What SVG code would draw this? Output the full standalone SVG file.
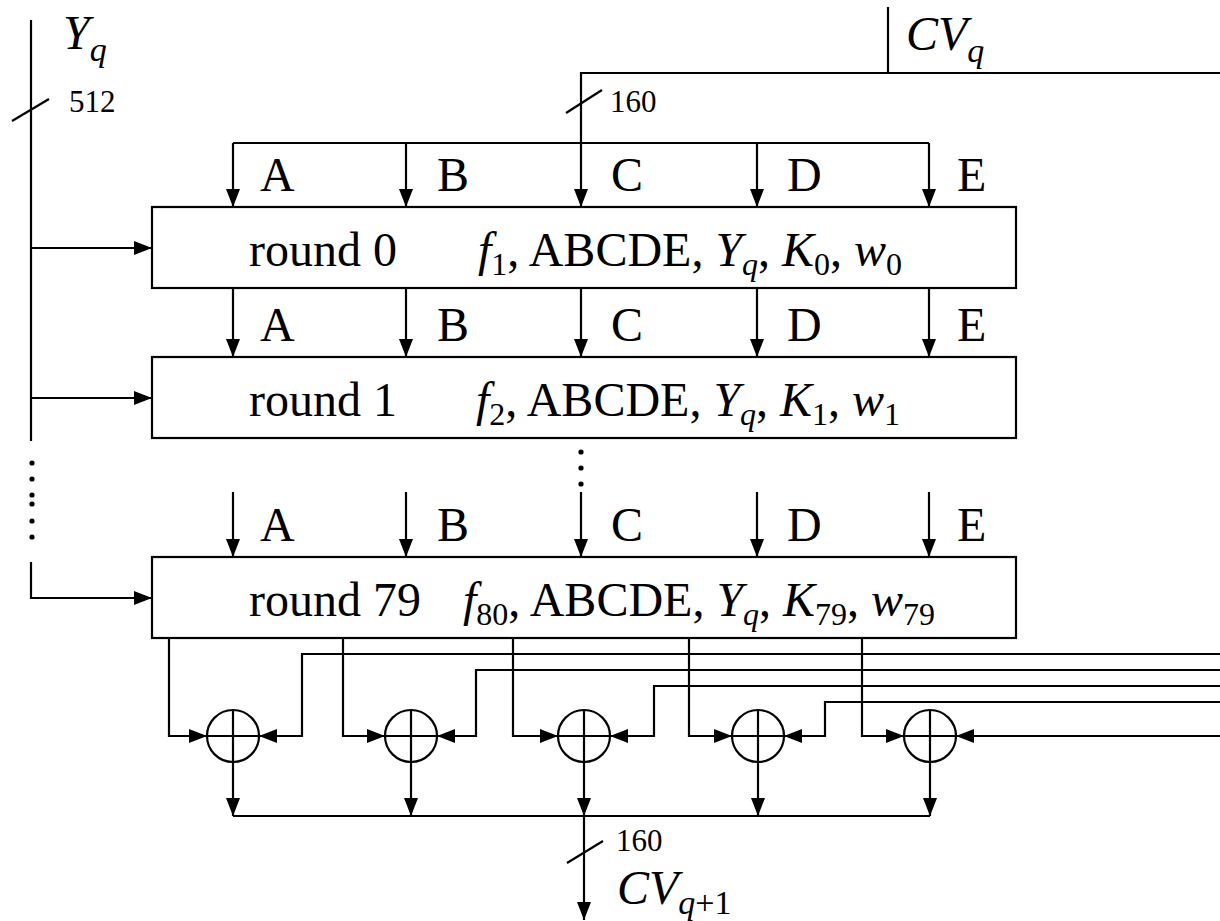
<svg xmlns="http://www.w3.org/2000/svg" width="1220" height="921" viewBox="0 0 1220 921">
<defs>
<style>
.ln{fill:none;stroke:#000;stroke-width:2.2}
.box{fill:#fff;stroke:#000;stroke-width:2.2}
.t{font-family:"Liberation Serif","Times New Roman",serif;font-size:48px;fill:#000}
.s{font-family:"Liberation Serif","Times New Roman",serif;font-size:31px;fill:#000}
.i{font-style:italic}
.sub{font-size:32px}
.dot{fill:#000}
</style>
<marker id="ah" viewBox="0 0 18 14" refX="18" refY="7" markerWidth="18" markerHeight="14" orient="auto" markerUnits="userSpaceOnUse"><path d="M0,0 L18,7 L0,14 z" fill="#000"/></marker>
</defs>
<rect width="1220" height="921" fill="#fff"/>

<g id="connectors">
<path class="ln" d="M31,20 V441"/>
<path class="ln" d="M12,121 L49,99"/>
<path class="ln" d="M31,248 H152" marker-end="url(#ah)"/>
<path class="ln" d="M31,398 H152" marker-end="url(#ah)"/>
<path class="ln" d="M31,562 V598 H152" marker-end="url(#ah)"/>
<path class="ln" d="M888,7 V73"/>
<path class="ln" d="M1220,73 H581 V207" marker-end="url(#ah)"/>
<path class="ln" d="M566,113 L602,90"/>
<path class="ln" d="M233,143 H929"/>
<path class="ln" d="M233,143 V207" marker-end="url(#ah)"/>
<path class="ln" d="M406,143 V207" marker-end="url(#ah)"/>
<path class="ln" d="M757,143 V207" marker-end="url(#ah)"/>
<path class="ln" d="M929,143 V207" marker-end="url(#ah)"/>
<path class="ln" d="M233,288 V357" marker-end="url(#ah)"/>
<path class="ln" d="M406,288 V357" marker-end="url(#ah)"/>
<path class="ln" d="M581,288 V357" marker-end="url(#ah)"/>
<path class="ln" d="M757,288 V357" marker-end="url(#ah)"/>
<path class="ln" d="M929,288 V357" marker-end="url(#ah)"/>
<path class="ln" d="M233,492 V557" marker-end="url(#ah)"/>
<path class="ln" d="M406,492 V557" marker-end="url(#ah)"/>
<path class="ln" d="M581,492 V557" marker-end="url(#ah)"/>
<path class="ln" d="M757,492 V557" marker-end="url(#ah)"/>
<path class="ln" d="M929,492 V557" marker-end="url(#ah)"/>
<path class="ln" d="M169,638 V736 H207" marker-end="url(#ah)"/>
<path class="ln" d="M343,638 V736 H385" marker-end="url(#ah)"/>
<path class="ln" d="M513,638 V736 H558" marker-end="url(#ah)"/>
<path class="ln" d="M689,638 V736 H732" marker-end="url(#ah)"/>
<path class="ln" d="M862,638 V736 H904" marker-end="url(#ah)"/>
<path class="ln" d="M1220,654 H302 V736 H259" marker-end="url(#ah)"/>
<path class="ln" d="M1220,670 H476 V736 H437" marker-end="url(#ah)"/>
<path class="ln" d="M1220,686 H654 V736 H610" marker-end="url(#ah)"/>
<path class="ln" d="M1220,702 H825 V736 H784" marker-end="url(#ah)"/>
<path class="ln" d="M1220,736 H956" marker-end="url(#ah)"/>
<path class="ln" d="M233,762 V816" marker-end="url(#ah)"/>
<path class="ln" d="M411,762 V816" marker-end="url(#ah)"/>
<path class="ln" d="M584,762 V816" marker-end="url(#ah)"/>
<path class="ln" d="M758,762 V816" marker-end="url(#ah)"/>
<path class="ln" d="M930,762 V816" marker-end="url(#ah)"/>
<path class="ln" d="M233,816 H930"/>
<path class="ln" d="M584,816 V920" marker-end="url(#ah)"/>
<path class="ln" d="M567,863 L603,841"/>
</g>

<g id="ellipsis">
<circle class="dot" cx="32" cy="463" r="2.6"/>
<circle class="dot" cx="32" cy="479" r="2.6"/>
<circle class="dot" cx="32" cy="495" r="2.6"/>
<circle class="dot" cx="32" cy="504" r="2.6"/>
<circle class="dot" cx="32" cy="521" r="2.6"/>
<circle class="dot" cx="32" cy="537" r="2.6"/>
<circle class="dot" cx="581" cy="452" r="2.6"/>
<circle class="dot" cx="581" cy="468" r="2.6"/>
<circle class="dot" cx="581" cy="484" r="2.6"/>
</g>

<g id="labels">
<text class="t i" x="63" y="49">Y<tspan dy="12" style="font-size:34px">q</tspan></text>
<text class="s" x="69" y="112">512</text>
<text class="t i" x="906" y="50">CV<tspan dy="12" style="font-size:34px">q</tspan></text>
<text class="s" x="610" y="112">160</text>
<text class="s" x="616" y="851">160</text>
<text class="t" x="617" y="904"><tspan class="i">CV</tspan><tspan dy="10" style="font-size:34px"><tspan class="i">q</tspan>+1</tspan></text>
<g id="row1-labels"><text class="t" x="260" y="191">A</text><text class="t" x="437" y="191">B</text><text class="t" x="611" y="191">C</text><text class="t" x="787" y="191">D</text><text class="t" x="957" y="191">E</text></g>
<g id="row2-labels"><text class="t" x="260" y="341">A</text><text class="t" x="437" y="341">B</text><text class="t" x="611" y="341">C</text><text class="t" x="787" y="341">D</text><text class="t" x="957" y="341">E</text></g>
<g id="row3-labels"><text class="t" x="260" y="541">A</text><text class="t" x="437" y="541">B</text><text class="t" x="611" y="541">C</text><text class="t" x="787" y="541">D</text><text class="t" x="957" y="541">E</text></g>
</g>

<g id="round0">
<rect class="box" x="152" y="207" width="864" height="81"/>
<text class="t" x="249" y="266">round 0</text>
<text class="t" x="478" y="266"><tspan class="i">f</tspan><tspan class="sub" dy="9">1</tspan><tspan dy="-9">, ABCDE, </tspan><tspan class="i">Y</tspan><tspan class="sub i" dy="9">q</tspan><tspan dy="-9">, </tspan><tspan class="i">K</tspan><tspan class="sub" dy="9">0</tspan><tspan dy="-9">, </tspan><tspan class="i">w</tspan><tspan class="sub" dy="9">0</tspan></text>
</g>

<g id="round1">
<rect class="box" x="152" y="357" width="864" height="81"/>
<text class="t" x="249" y="416">round 1</text>
<text class="t" x="476" y="416"><tspan class="i">f</tspan><tspan class="sub" dy="9">2</tspan><tspan dy="-9">, ABCDE, </tspan><tspan class="i">Y</tspan><tspan class="sub i" dy="9">q</tspan><tspan dy="-9">, </tspan><tspan class="i">K</tspan><tspan class="sub" dy="9">1</tspan><tspan dy="-9">, </tspan><tspan class="i">w</tspan><tspan class="sub" dy="9">1</tspan></text>
</g>

<g id="round79">
<rect class="box" x="152" y="557" width="864" height="81"/>
<text class="t" x="249" y="616">round 79</text>
<text class="t" x="463" y="616"><tspan class="i">f</tspan><tspan class="sub" dy="9">80</tspan><tspan dy="-9">, ABCDE, </tspan><tspan class="i">Y</tspan><tspan class="sub i" dy="9">q</tspan><tspan dy="-9">, </tspan><tspan class="i">K</tspan><tspan class="sub" dy="9">79</tspan><tspan dy="-9">, </tspan><tspan class="i">w</tspan><tspan class="sub" dy="9">79</tspan></text>
</g>

<g id="xorA"><circle class="ln" cx="233" cy="736" r="26"/><path class="ln" d="M207,736 H259 M233,710 V762"/></g>
<g id="xorB"><circle class="ln" cx="411" cy="736" r="26"/><path class="ln" d="M385,736 H437 M411,710 V762"/></g>
<g id="xorC"><circle class="ln" cx="584" cy="736" r="26"/><path class="ln" d="M558,736 H610 M584,710 V762"/></g>
<g id="xorD"><circle class="ln" cx="758" cy="736" r="26"/><path class="ln" d="M732,736 H784 M758,710 V762"/></g>
<g id="xorE"><circle class="ln" cx="930" cy="736" r="26"/><path class="ln" d="M904,736 H956 M930,710 V762"/></g>
</svg>
